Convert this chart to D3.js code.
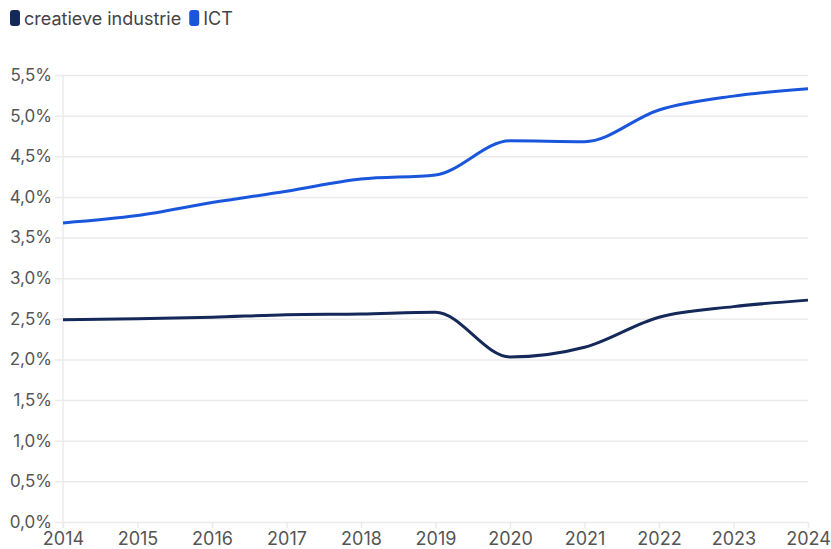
<!doctype html>
<html>
<head>
<meta charset="utf-8">
<script src="https://cdnjs.cloudflare.com/ajax/libs/d3/7.8.5/d3.min.js"></script>
<style>
  body { margin: 0; background: #fff; font-family: Inter, "Noto Sans", sans-serif; }
  .tick text { fill: #555; font-family: Inter, "Noto Sans", sans-serif; }
  .yaxis .tick text { font-size: 17px; }
  .xaxis .tick text { font-size: 18px; }
  .legend text { fill: #444; font-size: 18px; }
</style>
</head>
<body>
<svg width="831" height="549"></svg>
<script>
var years = [2014, 2015, 2016, 2017, 2018, 2019, 2020, 2021, 2022, 2023, 2024];
var creatief = [2.49, 2.50, 2.52, 2.55, 2.56, 2.58, 2.03, 2.15, 2.52, 2.65, 2.73];
var ict = [3.68, 3.77, 3.93, 4.07, 4.22, 4.27, 4.69, 4.68, 5.07, 5.24, 5.33];
var yTicks = [0, 0.5, 1, 1.5, 2, 2.5, 3, 3.5, 4, 4.5, 5, 5.5];

var series = [
    { name: "creatieve industrie", values: creatief, color: "#14285a" },
    { name: "ICT", values: ict, color: "#1a56db" }
];

var svg = d3.select("svg");
var mLeft = 63, mRight = 808, mTop = 75, mBottom = 522;

var x = d3.scaleLinear().domain([2014, 2024]).range([mLeft, mRight]);
var y = d3.scaleLinear().domain([0, 5.5]).range([mBottom, mTop]);

var fmt = function (d) { return d.toFixed(1).replace(".", ",") + "%"; };

// horizontal grid + y labels
var gy = svg.append("g")
    .attr("class", "yaxis")
    .attr("transform", "translate(" + mRight + ",0)")
    .call(d3.axisLeft(y).tickValues(yTicks).tickSize(mRight - mLeft + 8).tickPadding(3).tickFormat(fmt));
gy.select(".domain").remove();
gy.selectAll(".tick line").attr("stroke", "#ebebeb").attr("stroke-width", 1.5);

// vertical axis line
svg.append("line")
    .attr("x1", mLeft).attr("x2", mLeft)
    .attr("y1", mTop).attr("y2", mBottom + 6)
    .attr("stroke", "#ebebeb").attr("stroke-width", 1.5);

// x axis
var gx = svg.append("g")
    .attr("class", "xaxis")
    .attr("transform", "translate(0," + mBottom + ")")
    .call(d3.axisBottom(x).tickValues(years).tickFormat(d3.format("d")).tickSize(6).tickPadding(4));
gx.select(".domain").remove();
gx.selectAll(".tick line").attr("stroke", "#ebebeb").attr("stroke-width", 1.5);

var line = d3.line()
    .x(function (d, i) { return x(years[i]); })
    .y(function (d) { return y(d); })
    .curve(d3.curveMonotoneX);

svg.selectAll(".series")
    .data(series)
    .enter().append("path")
    .attr("class", "series")
    .attr("fill", "none")
    .attr("stroke", function (d) { return d.color; })
    .attr("stroke-width", 3)
    .attr("d", function (d) { return line(d.values); });

// legend
var lg = svg.append("g").attr("class", "legend");
var lx = 10;
series.forEach(function (s) {
    lg.append("rect")
        .attr("x", lx).attr("y", 10)
        .attr("width", 10).attr("height", 16)
        .attr("rx", 3)
        .attr("fill", s.color);
    var t = lg.append("text")
        .attr("x", lx + 14).attr("y", 25)
        .text(s.name);
    lx += 14 + t.node().getComputedTextLength() + 8;
});
</script>
</body>
</html>
